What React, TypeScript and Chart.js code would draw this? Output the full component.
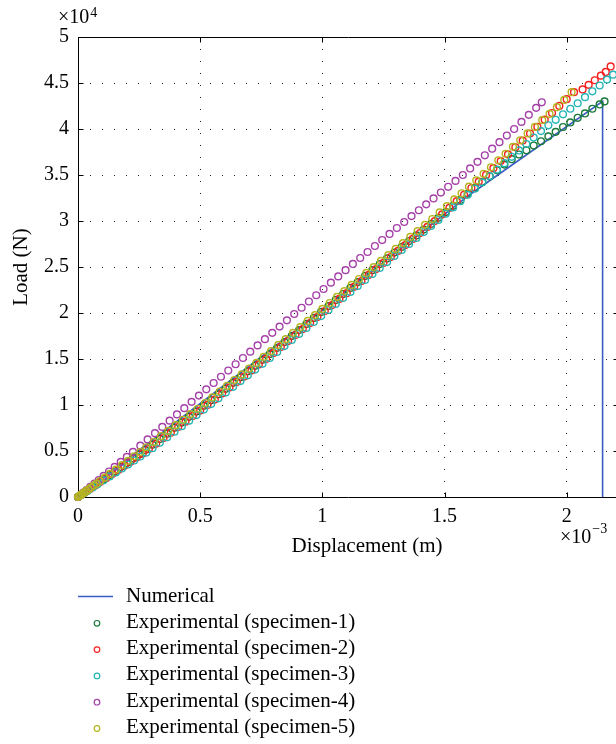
import { useEffect, useRef } from "react";
import { Chart, registerables } from "chart.js";

Chart.register(...registerables);

// Units: displacement in ×10^-3 m, load in ×10^4 N
const xTickValues = [0, 0.5, 1, 1.5, 2];
const xTickLabels = ["0", "0.5", "1", "1.5", "2"];
const yTickValues = [0, 0.5, 1, 1.5, 2, 2.5, 3, 3.5, 4, 4.5, 5];
const yTickLabels = ["0", "0.5", "1", "1.5", "2", "2.5", "3", "3.5", "4", "4.5", "5"];

const seriesNames = [
  "Numerical",
  "Experimental (specimen-1)",
  "Experimental (specimen-2)",
  "Experimental (specimen-3)",
  "Experimental (specimen-4)",
  "Experimental (specimen-5)",
];
const seriesColors = ["#3b5cc4", "#1a7a3a", "#f52020", "#25b5b5", "#a540a8", "#b5b521"];

const numerical: [number, number][] = [
  [0, 0], [1.0, 2.03], [1.6, 3.28], [2.147, 4.3], [2.147, 0],
];

const specimen1: [number, number][] = [
  [0, 0], [0.012, 0.022], [0.026, 0.047], [0.042, 0.079], [0.06, 0.11], [0.08, 0.149], [0.1, 0.184],
  [0.125, 0.232], [0.15, 0.277], [0.175, 0.325], [0.2, 0.369], [0.225, 0.418], [0.25, 0.462],
  [0.275, 0.511], [0.305, 0.569], [0.335, 0.631], [0.365, 0.688], [0.395, 0.752], [0.425, 0.809],
  [0.455, 0.871], [0.485, 0.928], [0.515, 0.991], [0.545, 1.051], [0.575, 1.116], [0.605, 1.176],
  [0.635, 1.241], [0.665, 1.301], [0.695, 1.366], [0.725, 1.426], [0.755, 1.491], [0.785, 1.553],
  [0.815, 1.621], [0.845, 1.684], [0.875, 1.751], [0.905, 1.814], [0.935, 1.881], [0.965, 1.947],
  [0.995, 2.012], [1.025, 2.075], [1.055, 2.142], [1.085, 2.206], [1.115, 2.273], [1.145, 2.336],
  [1.175, 2.403], [1.205, 2.466], [1.235, 2.532], [1.265, 2.593], [1.295, 2.657], [1.325, 2.718],
  [1.355, 2.782], [1.385, 2.843], [1.415, 2.907], [1.445, 2.968], [1.475, 3.034], [1.505, 3.097],
  [1.535, 3.165], [1.565, 3.229], [1.595, 3.296], [1.625, 3.36], [1.655, 3.425], [1.685, 3.486],
  [1.715, 3.551], [1.745, 3.613], [1.775, 3.672], [1.805, 3.723], [1.835, 3.769], [1.865, 3.82],
  [1.895, 3.867], [1.925, 3.92], [1.955, 3.969], [1.985, 4.022], [2.015, 4.071], [2.045, 4.122],
  [2.075, 4.169], [2.105, 4.22], [2.135, 4.267], [2.155, 4.3],
];

const specimen2: [number, number][] = [
  [0, 0], [0.01, 0.018], [0.02, 0.036], [0.035, 0.062], [0.05, 0.09], [0.07, 0.124], [0.09, 0.162],
  [0.115, 0.204], [0.14, 0.251], [0.165, 0.294], [0.19, 0.34], [0.215, 0.383], [0.24, 0.43],
  [0.265, 0.472], [0.29, 0.521], [0.32, 0.579], [0.35, 0.641], [0.38, 0.699], [0.41, 0.761],
  [0.44, 0.819], [0.47, 0.881], [0.5, 0.939], [0.53, 1.001], [0.56, 1.059], [0.59, 1.126],
  [0.62, 1.189], [0.65, 1.251], [0.68, 1.309], [0.71, 1.376], [0.74, 1.439], [0.77, 1.501],
  [0.8, 1.564], [0.83, 1.631], [0.86, 1.695], [0.89, 1.761], [0.92, 1.825], [0.95, 1.891],
  [0.98, 1.956], [1.01, 2.021], [1.04, 2.086], [1.07, 2.153], [1.1, 2.216], [1.13, 2.284],
  [1.16, 2.347], [1.19, 2.414], [1.22, 2.477], [1.25, 2.544], [1.28, 2.608], [1.31, 2.675],
  [1.34, 2.738], [1.37, 2.805], [1.4, 2.869], [1.43, 2.936], [1.46, 2.999], [1.49, 3.072],
  [1.52, 3.142], [1.55, 3.215], [1.58, 3.285], [1.61, 3.358], [1.64, 3.428], [1.67, 3.501],
  [1.7, 3.574], [1.73, 3.651], [1.76, 3.724], [1.79, 3.801], [1.82, 3.874], [1.85, 3.951],
  [1.88, 4.024], [1.91, 4.101], [1.94, 4.174], [1.97, 4.251], [2.0, 4.324], [2.03, 4.4],
  [2.065, 4.43], [2.09, 4.48], [2.115, 4.53], [2.14, 4.58], [2.16, 4.62], [2.18, 4.68],
];

const specimen3: [number, number][] = [
  [0, 0], [0.012, 0.021], [0.025, 0.043], [0.04, 0.069], [0.06, 0.103], [0.08, 0.138], [0.105, 0.181],
  [0.13, 0.224], [0.155, 0.267], [0.18, 0.31], [0.205, 0.353], [0.23, 0.397], [0.255, 0.44],
  [0.28, 0.483], [0.305, 0.53], [0.335, 0.59], [0.365, 0.65], [0.395, 0.71], [0.425, 0.77],
  [0.455, 0.83], [0.485, 0.89], [0.515, 0.95], [0.545, 1.01], [0.575, 1.073], [0.605, 1.135],
  [0.635, 1.198], [0.665, 1.26], [0.695, 1.323], [0.725, 1.385], [0.755, 1.448], [0.785, 1.511],
  [0.815, 1.576], [0.845, 1.641], [0.875, 1.707], [0.905, 1.772], [0.935, 1.837], [0.965, 1.902],
  [0.995, 1.967], [1.025, 2.033], [1.055, 2.098], [1.085, 2.163], [1.115, 2.228], [1.145, 2.293],
  [1.175, 2.359], [1.205, 2.424], [1.235, 2.489], [1.265, 2.554], [1.295, 2.62], [1.325, 2.685],
  [1.355, 2.75], [1.385, 2.815], [1.415, 2.88], [1.445, 2.946], [1.475, 3.011], [1.505, 3.08],
  [1.535, 3.148], [1.565, 3.216], [1.595, 3.284], [1.625, 3.352], [1.655, 3.42], [1.685, 3.489],
  [1.715, 3.558], [1.745, 3.628], [1.775, 3.698], [1.805, 3.767], [1.835, 3.837], [1.865, 3.907],
  [1.895, 3.977], [1.925, 4.04], [1.955, 4.1], [1.985, 4.16], [2.015, 4.22], [2.045, 4.28],
  [2.075, 4.346], [2.105, 4.41], [2.135, 4.473], [2.165, 4.537], [2.19, 4.59],
];

const specimen4: [number, number][] = [
  [0, 0], [0.01, 0.022], [0.022, 0.048], [0.035, 0.076], [0.05, 0.109], [0.067, 0.146], [0.085, 0.185],
  [0.105, 0.229], [0.127, 0.277], [0.15, 0.327], [0.175, 0.381], [0.2, 0.436], [0.225, 0.49],
  [0.255, 0.558], [0.285, 0.626], [0.315, 0.694], [0.345, 0.762], [0.375, 0.83], [0.405, 0.898],
  [0.435, 0.966], [0.465, 1.034], [0.495, 1.102], [0.525, 1.17], [0.555, 1.239], [0.585, 1.307],
  [0.615, 1.375], [0.645, 1.443], [0.675, 1.511], [0.705, 1.58], [0.735, 1.648], [0.765, 1.716],
  [0.795, 1.784], [0.825, 1.852], [0.855, 1.92], [0.885, 1.989], [0.915, 2.057], [0.945, 2.125],
  [0.975, 2.193], [1.005, 2.261], [1.035, 2.33], [1.065, 2.398], [1.095, 2.466], [1.125, 2.533],
  [1.155, 2.598], [1.185, 2.663], [1.215, 2.728], [1.245, 2.793], [1.275, 2.859], [1.305, 2.924],
  [1.335, 2.989], [1.365, 3.053], [1.395, 3.117], [1.425, 3.181], [1.455, 3.245], [1.485, 3.309],
  [1.515, 3.372], [1.545, 3.436], [1.575, 3.5], [1.605, 3.571], [1.635, 3.643], [1.665, 3.714],
  [1.695, 3.786], [1.725, 3.857], [1.755, 3.929], [1.785, 4.0], [1.815, 4.077], [1.845, 4.154],
  [1.875, 4.23], [1.898, 4.29],
];

const specimen5: [number, number][] = [
  [0, 0], [0.004, 0.008], [0.008, 0.016], [0.013, 0.025], [0.019, 0.036], [0.026, 0.05], [0.034, 0.066],
  [0.043, 0.082], [0.053, 0.102], [0.064, 0.124], [0.076, 0.145], [0.09, 0.174], [0.11, 0.211],
  [0.13, 0.251], [0.155, 0.297], [0.18, 0.347], [0.205, 0.393], [0.23, 0.443], [0.255, 0.489],
  [0.28, 0.541], [0.31, 0.599], [0.34, 0.661], [0.37, 0.719], [0.4, 0.781], [0.43, 0.839],
  [0.46, 0.901], [0.49, 0.959], [0.52, 1.022], [0.55, 1.082], [0.58, 1.147], [0.61, 1.207],
  [0.64, 1.272], [0.67, 1.332], [0.7, 1.397], [0.73, 1.457], [0.76, 1.523], [0.79, 1.586],
  [0.82, 1.653], [0.85, 1.716], [0.88, 1.784], [0.91, 1.847], [0.94, 1.914], [0.97, 1.977],
  [1.0, 2.044], [1.03, 2.108], [1.06, 2.175], [1.09, 2.238], [1.12, 2.305], [1.15, 2.369],
  [1.18, 2.436], [1.21, 2.499], [1.24, 2.566], [1.27, 2.629], [1.3, 2.697], [1.33, 2.76],
  [1.36, 2.827], [1.39, 2.89], [1.42, 2.958], [1.45, 3.022], [1.48, 3.094], [1.51, 3.162],
  [1.54, 3.234], [1.57, 3.301], [1.6, 3.373], [1.63, 3.441], [1.66, 3.513], [1.69, 3.584],
  [1.72, 3.66], [1.75, 3.731], [1.78, 3.806], [1.81, 3.877], [1.84, 3.952], [1.87, 4.023],
  [1.9, 4.096], [1.93, 4.164], [1.96, 4.237], [1.99, 4.316], [2.02, 4.4],
];

const experimentalSeries = [specimen1, specimen2, specimen3, specimen4, specimen5];

const FONT = '"Liberation Serif", "Times New Roman", serif';

const decorPlugin = {
  id: "decor",
  beforeDatasetsDraw(chart: any) {
    const { ctx, chartArea: a, scales } = chart;
    ctx.save();
    ctx.strokeStyle = "#000";
    ctx.lineWidth = 1;
    const L = Math.round(a.left) + 0.5;
    const R = Math.round(a.right) + 0.5;
    const T = Math.round(a.top) + 0.5;
    const B = Math.round(a.bottom) + 0.5;
    ctx.beginPath();
    ctx.rect(L, T, R - L, B - T);
    const TL = 5;
    xTickValues.forEach((v) => {
      const px = Math.round(scales.x.getPixelForValue(v)) + 0.5;
      ctx.moveTo(px, B);
      ctx.lineTo(px, B - TL);
      ctx.moveTo(px, T);
      ctx.lineTo(px, T + TL);
    });
    yTickValues.forEach((v) => {
      const py = Math.round(scales.y.getPixelForValue(v)) + 0.5;
      ctx.moveTo(L, py);
      ctx.lineTo(L + TL, py);
      ctx.moveTo(R, py);
      ctx.lineTo(R - TL, py);
    });
    ctx.stroke();
    ctx.restore();
  },
  afterDraw(chart: any) {
    const { ctx, chartArea: a } = chart;
    ctx.save();
    ctx.fillStyle = "#000";
    ctx.textAlign = "left";
    ctx.textBaseline = "alphabetic";
    // exponent labels
    ctx.font = `20px ${FONT}`;
    const ex1x = a.left - 20;
    const ex1y = a.top - 14;
    ctx.fillText("×10", ex1x, ex1y);
    let w = ctx.measureText("×10").width;
    ctx.font = `14px ${FONT}`;
    ctx.fillText("4", ex1x + w + 1, ex1y - 6);

    ctx.font = `20px ${FONT}`;
    const ex2x = a.right - 58;
    const ex2y = a.bottom + 46;
    ctx.fillText("×10", ex2x, ex2y);
    w = ctx.measureText("×10").width;
    ctx.font = `14px ${FONT}`;
    ctx.fillText("−3", ex2x + w + 1, ex2y - 10);

    // x axis label
    ctx.font = `21px ${FONT}`;
    ctx.textAlign = "center";
    ctx.textBaseline = "middle";
    ctx.fillText("Displacement (m)", a.left + 289, a.bottom + 49);

    // legend
    const ds = chart.data.datasets;
    const top = a.bottom + 99;
    const step = 26.3;
    ctx.textAlign = "left";
    ds.forEach((d: any, i: number) => {
      const y = top + i * step;
      if (i === 0) {
        ctx.strokeStyle = d.borderColor;
        ctx.lineWidth = 1.3;
        ctx.beginPath();
        ctx.moveTo(a.left, Math.round(y) + 0.5);
        ctx.lineTo(a.left + 35, Math.round(y) + 0.5);
        ctx.stroke();
      } else {
        ctx.strokeStyle = d.pointBorderColor;
        ctx.lineWidth = 1.2;
        ctx.beginPath();
        ctx.arc(a.left + 19, y + 1, 2.8, 0, Math.PI * 2);
        ctx.stroke();
      }
      ctx.fillStyle = "#000";
      ctx.font = `21px ${FONT}`;
      ctx.fillText(d.label, a.left + 48, y);
    });
    ctx.restore();
  },
};

export default function App() {
  const canvasRef = useRef<HTMLCanvasElement | null>(null);

  useEffect(() => {
    const canvas = canvasRef.current;
    if (!canvas) return;

    const datasets: any[] = [
      {
        type: "line",
        label: seriesNames[0],
        data: numerical.map(([x, y]) => ({ x, y })),
        showLine: true,
        borderColor: seriesColors[0],
        backgroundColor: seriesColors[0],
        borderWidth: 1.6,
        pointRadius: 0,
        pointHoverRadius: 0,
        fill: false,
        tension: 0,
        clip: false,
        order: 10,
      },
      ...experimentalSeries.map((s, i) => ({
        type: "scatter",
        label: seriesNames[i + 1],
        data: s.map(([x, y]) => ({ x, y })),
        showLine: false,
        pointStyle: "circle",
        pointRadius: 3.4,
        pointHoverRadius: 3.4,
        pointBorderWidth: 1.4,
        borderColor: seriesColors[i + 1],
        pointBorderColor: seriesColors[i + 1],
        pointBackgroundColor: "rgba(0,0,0,0)",
        backgroundColor: "rgba(0,0,0,0)",
        clip: false,
        order: 5 - i,
      })),
    ];

    const tickFont = { family: FONT, size: 20 };

    const chart = new Chart(canvas, {
      type: "scatter",
      data: { datasets },
      options: {
        animation: false,
        responsive: false,
        devicePixelRatio: 1,
        events: [],
        layout: { padding: { left: 0, top: 37, right: 22, bottom: 207 } },
        plugins: {
          legend: { display: false },
          tooltip: { enabled: false },
        },
        scales: {
          x: {
            type: "linear",
            min: 0,
            max: 2.21,
            afterBuildTicks: (s: any) => {
              s.ticks = xTickValues.map((v) => ({ value: v }));
            },
            afterFit: (s: any) => {
              s.height = 40;
            },
            grid: { color: "#222", lineWidth: 1, drawTicks: false },
            border: { display: false, dash: [1, 11] },
            ticks: {
              color: "#000",
              font: tickFont,
              padding: 8,
              maxRotation: 0,
              autoSkip: false,
              callback: (v: any) => xTickLabels[xTickValues.indexOf(Number(v))],
            },
          },
          y: {
            type: "linear",
            min: 0,
            max: 5,
            afterBuildTicks: (s: any) => {
              s.ticks = yTickValues.map((v) => ({ value: v }));
            },
            afterFit: (s: any) => {
              s.width = 78;
            },
            grid: { color: "#222", lineWidth: 1, drawTicks: false },
            border: { display: false, dash: [1, 11] },
            title: {
              display: true,
              text: "Load (N)",
              color: "#000",
              font: { family: FONT, size: 21 },
              padding: { top: 9, bottom: 0 },
            },
            ticks: {
              color: "#000",
              font: tickFont,
              padding: 9,
              autoSkip: false,
              callback: (v: any) => yTickLabels[yTickValues.indexOf(Number(v))],
            },
          },
        },
      } as any,
      plugins: [decorPlugin],
    });

    return () => {
      chart.destroy();
    };
  }, []);

  return (
    <div
      style={{
        position: "fixed",
        left: 0,
        top: 0,
        width: 616,
        height: 744,
        overflow: "hidden",
        background: "#fff",
      }}
    >
      <canvas ref={canvasRef} width={640} height={744} style={{ display: "block", width: 640, height: 744 }} />
    </div>
  );
}
